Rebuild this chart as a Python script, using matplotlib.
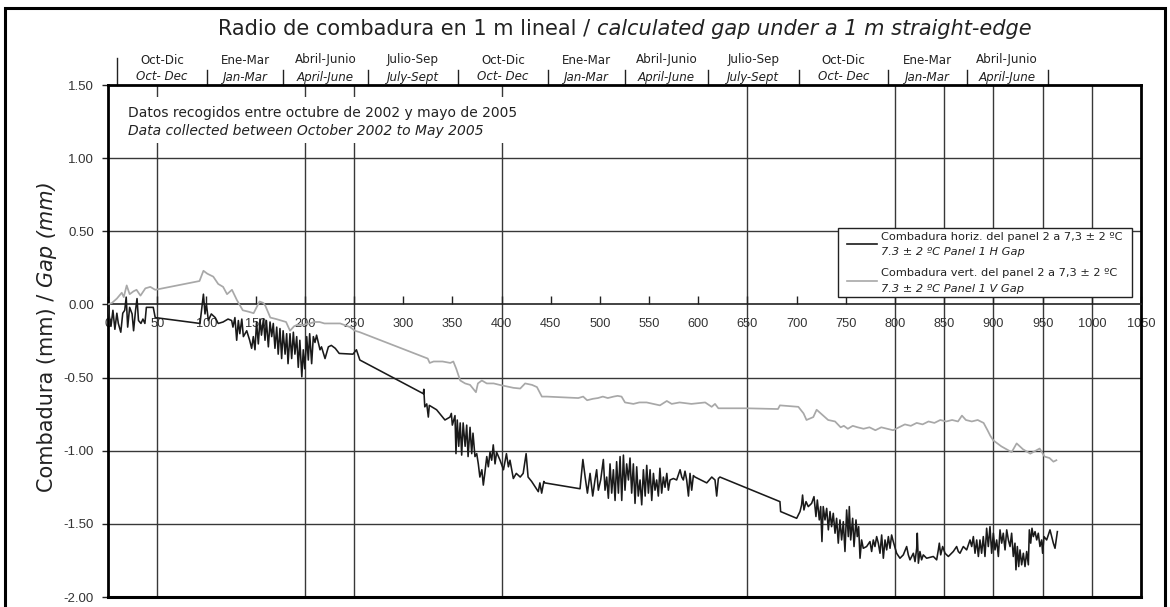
import matplotlib
matplotlib.use("Agg")
import matplotlib.pyplot as plt
from matplotlib.patches import Rectangle
from matplotlib.lines import Line2D
from matplotlib.ticker import FixedLocator, FuncFormatter
import matplotlib.transforms as mtransforms

# ---------------- data ----------------
# Horizontal gap (black)
h_x = [0, 1.5, 3, 5, 7, 9, 10.5, 13, 15, 17, 18.5, 20, 22, 24.5, 26, 28, 29.5, 31, 33.5, 35.5, 37.5, 39, 46, 48,
       93.5, 97, 98.6, 100, 102, 105, 109, 112, 117, 122, 125.7, 127, 129, 130.8, 132.5, 134, 136, 137.6, 141, 144,
       146, 147.7, 149.4, 151, 152.8, 154.5, 156, 158, 159.6, 161, 163, 164.7, 166.4, 168, 169.7, 171.5, 173, 174.8, 176.5, 178,
       180, 181.6, 183, 185, 186.7, 188.4, 190, 191.8, 193.4, 195, 197, 198.5, 200, 202, 203.6, 205, 207, 208.7, 210.4, 212,
       215.5, 217, 220.6, 224, 227, 231, 235, 249, 252.5, 256,
       320.5, 321, 322, 324, 325.6, 326.6, 329, 334, 342.5, 347.6, 349, 350, 352.7, 353.7, 355, 356.5, 358, 359.5, 361, 363,
       364.6, 366, 368, 369.7, 371, 373, 374.8, 376.4, 378, 380, 381.5, 383, 385, 386.6, 388.3, 390, 391.6, 393.4, 395, 398.5,
       402, 405, 407, 408.6, 412, 415, 419, 422, 425, 427, 430.6, 434, 437.4, 439, 440.8, 443, 444,
       479.8, 482.7, 485, 487.3, 490, 492.7, 495, 496.7, 498.4, 500.8, 503.5, 505.2, 506.9, 508.6, 510.3, 512, 513.7, 515.4, 517, 518.8,
       520.5, 522.2, 523.9, 525.5, 527.2, 529, 530.6, 532.3, 534, 535.7, 537.4, 539, 540.8, 542.5, 544.2, 546, 547.6, 549.3, 551, 552.7,
       554.4, 556, 557.7, 559.4, 561, 562.8, 564.5, 566.2, 568, 569.6, 571.3, 574.7, 578, 581.5, 583.2, 584.8, 586.5, 588.2, 590, 591.6,
       593.3, 595, 596.7, 608.6, 613.7, 617, 618.7, 620.4, 622,
       683, 683.7, 700, 703.4, 705, 706, 707.4, 709.5, 711.8, 715.2, 717.6, 719.6, 721, 723, 724.4, 725.7, 727, 728.8, 730.5, 732.2,
       733.9, 735.5, 737.2, 739, 740.6, 742.3, 744, 745.7, 747.4, 749.1, 750.8, 752.5, 753.5, 754.9, 756.9, 758.3, 760.3, 761.6, 763, 764.4,
       766, 767.7, 771.1, 774.5, 776.2, 777.9, 779.6, 781.3, 783, 784.7, 786.4, 788.1, 789.8, 791.5, 793.2, 794.9, 796.5, 798.2, 801.6, 805,
       808.4, 811.8, 813.5, 815.2, 818.6, 820.3, 822, 822.6, 823.7, 825.3, 827, 828.7, 832.1, 838.9, 842.3, 844, 845, 846.4, 848.4, 850.8,
       854.2, 859.2, 862.6, 864.3, 866, 869.4, 872.8, 876.2, 877.9, 879.6, 881.3, 883, 884.7, 886.3, 888, 889.7, 891.4, 893.1, 894.8, 896.5,
       898.2, 899.9, 901.6, 903.3, 905, 906.7, 908.4, 910, 911.8, 913.5, 915.2, 916.9, 918.5, 920.2, 921.9, 922.9, 924.3, 925.7, 927, 928.7,
       930.4, 932.1, 933.8, 935.5, 936.5, 937.9, 939.2, 940.6, 942.3, 944, 945.6, 947.3, 949, 950, 951.4, 954.1, 957.5, 960.9, 962.6, 965]
h_y = [-0.01, -0.09, -0.15, -0.04, -0.17, -0.06, -0.13, -0.19, -0.06, -0.04, 0.05, -0.155, -0.02, -0.065, -0.18, -0.04, 0.04, -0.11, -0.13, -0.10, -0.13, -0.02, -0.02, -0.09,
       -0.13, 0.07, -0.065, 0.005, -0.11, -0.065, -0.09, -0.13, -0.12, -0.10, -0.11, -0.155, -0.09, -0.245, -0.11, -0.20, -0.10, -0.22, -0.18, -0.245,
       -0.30, -0.22, -0.31, -0.12, -0.27, -0.10, -0.21, -0.10, -0.245, -0.11, -0.29, -0.12, -0.22, -0.13, -0.30, -0.155, -0.34, -0.165, -0.37, -0.18,
       -0.34, -0.20, -0.405, -0.20, -0.37, -0.19, -0.34, -0.22, -0.43, -0.245, -0.495, -0.31, -0.44, -0.22, -0.38, -0.20, -0.405, -0.22, -0.26, -0.21,
       -0.31, -0.29, -0.37, -0.29, -0.28, -0.30, -0.335, -0.34, -0.31, -0.38,
       -0.61, -0.58, -0.70, -0.68, -0.77, -0.69, -0.70, -0.72, -0.79, -0.77, -0.745, -0.825, -0.76, -1.02, -0.79, -0.97, -0.81, -1.03, -0.81, -0.97,
       -0.825, -1.04, -0.84, -1.02, -0.88, -1.04, -1.02, -1.09, -1.18, -1.13, -1.235, -1.155, -1.04, -1.11, -1.01, -1.065, -0.96, -1.09, -1.01, -1.065,
       -1.13, -1.02, -1.11, -1.065, -1.19, -1.155, -1.18, -1.155, -1.02, -1.18, -1.21, -1.245, -1.28, -1.22, -1.29, -1.21, -1.22,
       -1.26, -1.06, -1.18, -1.29, -1.155, -1.31, -1.20, -1.13, -1.27, -1.20, -1.06, -1.27, -1.18, -1.325, -1.09, -1.29, -1.13, -1.34, -1.075, -1.29,
       -1.04, -1.34, -1.03, -1.27, -1.09, -1.20, -1.05, -1.29, -1.09, -1.36, -1.11, -1.31, -1.20, -1.37, -1.13, -1.31, -1.10, -1.29, -1.13, -1.34,
       -1.155, -1.27, -1.20, -1.31, -1.12, -1.29, -1.18, -1.25, -1.155, -1.27, -1.20, -1.19, -1.20, -1.13, -1.18, -1.20, -1.14, -1.20, -1.31, -1.155,
       -1.27, -1.17, -1.18, -1.22, -1.18, -1.20, -1.31, -1.19, -1.18,
       -1.348, -1.416, -1.462, -1.416, -1.371, -1.303, -1.405, -1.348, -1.382, -1.36, -1.314, -1.45, -1.337, -1.473, -1.382, -1.621, -1.382, -1.473, -1.394, -1.541,
       -1.416, -1.519, -1.428, -1.564, -1.462, -1.632, -1.473, -1.61, -1.485, -1.689, -1.405, -1.587, -1.382, -1.61, -1.462, -1.655, -1.473, -1.587, -1.519, -1.735,
       -1.61, -1.667, -1.655, -1.621, -1.689, -1.61, -1.655, -1.587, -1.632, -1.701, -1.576, -1.735, -1.61, -1.678, -1.587, -1.667, -1.576, -1.621, -1.701, -1.735,
       -1.712, -1.655, -1.712, -1.746, -1.701, -1.758, -1.667, -1.564, -1.769, -1.689, -1.746, -1.712, -1.735, -1.723, -1.746, -1.678, -1.632, -1.712, -1.655, -1.701,
       -1.723, -1.689, -1.655, -1.689, -1.701, -1.655, -1.678, -1.61, -1.655, -1.587, -1.701, -1.61, -1.723, -1.61, -1.701, -1.587, -1.723, -1.53, -1.655, -1.519,
       -1.701, -1.564, -1.678, -1.61, -1.723, -1.541, -1.632, -1.564, -1.678, -1.541, -1.61, -1.655, -1.564, -1.723, -1.632, -1.814, -1.655, -1.792, -1.678, -1.78,
       -1.701, -1.792, -1.689, -1.78, -1.541, -1.632, -1.53, -1.587, -1.553, -1.61, -1.564, -1.655, -1.61, -1.701, -1.587, -1.61, -1.541, -1.632, -1.667, -1.553]

# Vertical gap (grey)
v_x = [0, 4, 9, 14, 16, 19, 22, 26, 29, 33, 38, 43, 48, 93, 97, 101, 107, 112, 117, 121,
       126, 131, 137, 143, 148, 154, 158, 160, 165, 171, 176, 181, 185, 189, 192, 198, 205, 210, 215, 220,
       226, 236, 246, 251, 256, 325, 327, 331, 340, 348, 351, 354, 358, 363, 368, 371, 374, 376, 380, 385,
       392, 398, 405, 412, 419, 424, 431, 436, 441, 446, 478, 483, 487, 493, 498, 503, 508, 514, 518, 522,
       525.5, 530, 534, 540, 547.5, 554, 561, 568, 573, 581, 587, 593, 600, 607, 613.6, 617, 620.4, 649, 681, 683,
       701.7, 707, 710, 716.9, 720.3, 727, 732, 739, 744.7, 748, 752, 757, 762, 768, 774, 780, 786, 792, 798, 804,
       810, 816, 822, 828, 834, 840, 846, 852, 858, 864, 868, 872, 878, 884, 890, 894, 897, 900, 908, 918.5,
       923.6, 930, 937.5, 947, 952, 957, 961, 964]
v_y = [0.00, 0.01, 0.04, 0.08, 0.05, 0.13, 0.07, 0.09, 0.10, 0.06, 0.11, 0.12, 0.10, 0.16, 0.23, 0.21, 0.19, 0.14, 0.12, 0.07,
       0.10, 0.03, -0.04, -0.05, -0.06, 0.02, 0.01, -0.01, -0.09, -0.10, -0.11, -0.12, -0.18, -0.15, -0.14, -0.14, -0.13, -0.12, -0.12, -0.13,
       -0.13, -0.13, -0.155, -0.18, -0.19, -0.37, -0.40, -0.39, -0.39, -0.40, -0.39, -0.44, -0.52, -0.54, -0.55, -0.575, -0.60, -0.54, -0.52, -0.54,
       -0.54, -0.55, -0.56, -0.57, -0.575, -0.54, -0.55, -0.565, -0.63, -0.63, -0.64, -0.63, -0.655, -0.645, -0.64, -0.63, -0.64, -0.63, -0.625, -0.63,
       -0.67, -0.675, -0.68, -0.67, -0.67, -0.68, -0.69, -0.66, -0.68, -0.67, -0.675, -0.68, -0.675, -0.67, -0.70, -0.68, -0.71, -0.71, -0.715, -0.69,
       -0.70, -0.745, -0.79, -0.77, -0.72, -0.76, -0.79, -0.80, -0.84, -0.83, -0.85, -0.83, -0.84, -0.85, -0.84, -0.86, -0.84, -0.85, -0.86, -0.84,
       -0.82, -0.83, -0.81, -0.82, -0.80, -0.81, -0.79, -0.80, -0.79, -0.80, -0.76, -0.79, -0.80, -0.79, -0.81, -0.86, -0.90, -0.93, -0.97, -1.01,
       -0.95, -0.99, -1.02, -0.985, -1.04, -1.05, -1.075, -1.065]

quarter_edges = [9, 101, 178, 264, 356, 447, 525, 610, 702, 793, 873, 955]
quarters_es = ["Oct-Dic", "Ene-Mar", "Abril-Junio", "Julio-Sep", "Oct-Dic", "Ene-Mar",
               "Abril-Junio", "Julio-Sep", "Oct-Dic", "Ene-Mar", "Abril-Junio"]
quarters_en = ["Oct- Dec", "Jan-Mar", "April-June", "July-Sept", "Oct- Dec", "Jan-Mar",
               "April-June", "July-Sept", "Oct- Dec", "Jan-Mar", "April-June"]

x_ticks = list(range(0, 1051, 50))
y_ticks = [-2.0, -1.5, -1.0, -0.5, 0.0, 0.5, 1.0, 1.5]
x_grid = [50, 200, 250, 400, 650, 800, 850, 900, 950, 1000]
y_grid = [-1.5, -1.0, -0.5, 0.5, 1.0]

legend_h = ("Combadura horiz. del panel 2 a 7,3 ± 2 ºC", "7.3 ± 2 ºC Panel 1 H Gap")
legend_v = ("Combadura vert. del panel 2 a 7,3 ± 2 ºC", "7.3 ± 2 ºC Panel 1 V Gap")

# ---------------- figure ----------------
W, H, DPI = 1170, 607, 100
fig = plt.figure(figsize=(W / DPI, H / DPI), dpi=DPI)
fig.patch.set_facecolor("white")
FONT = "DejaVu Sans"
TICKFONT = "Liberation Sans"


def fx(px):
    return px / W


def fy(py):
    return 1 - py / H


ax = fig.add_axes([fx(108), fy(597), fx(1141) - fx(108), fy(85) - fy(597)])
ax.set_xlim(0, 1050)
ax.set_ylim(-2.0, 1.5)

BLACK = "#1a1a1a"
GREY = "#a8a8a8"
GRIDC = "#383838"

for xv in x_grid:
    ax.axvline(xv, color=GRIDC, lw=1.0, zorder=1)
for yv in y_grid:
    ax.axhline(yv, color=GRIDC, lw=1.0, zorder=1)

ax.plot(v_x, v_y, color=GREY, lw=1.25, zorder=3)
ax.plot(h_x, h_y, color=BLACK, lw=1.15, zorder=4)

# spines
for s in ("left", "right", "top"):
    ax.spines[s].set_linewidth(2.0)
    ax.spines[s].set_color("black")
ax.spines["bottom"].set_position(("data", 0))
ax.spines["bottom"].set_linewidth(1.2)
ax.spines["bottom"].set_color("#222222")
ax.axhline(-2.0, color="black", lw=2.2, clip_on=False, zorder=5)

ax.xaxis.set_major_locator(FixedLocator(x_ticks))
ax.yaxis.set_major_locator(FixedLocator(y_ticks))
ax.xaxis.set_major_formatter(FuncFormatter(lambda v, p: f"{int(v)}"))
ax.yaxis.set_major_formatter(FuncFormatter(lambda v, p: f"{v:.2f}".replace("\u2212", "-")))
ax.tick_params(axis="x", direction="in", length=6, width=1.0, pad=10, labelsize=9.2,
               labelcolor="#333333", color="#222222")
ax.tick_params(axis="y", direction="out", length=4, width=1.0, pad=6, labelsize=9.5,
               labelcolor="#333333", color="#222222")
for lab in ax.get_xticklabels() + ax.get_yticklabels():
    lab.set_fontfamily(TICKFONT)

# white box behind the note
ax.add_patch(Rectangle((fx(118), fy(143)), fx(535) - fx(118), fy(97) - fy(143),
                       transform=fig.transFigure, facecolor="white", edgecolor="none", zorder=2))
ax.text(fx(128), fy(113), "Datos recogidos entre octubre de 2002 y mayo de 2005",
        transform=fig.transFigure, fontsize=10.0, family=FONT, va="center", ha="left", color="#222222", zorder=6)
ax.text(fx(128), fy(131.5), "Data collected between October 2002 to May 2005",
        transform=fig.transFigure, fontsize=10.0, family=FONT, style="italic", va="center", ha="left",
        color="#222222", zorder=6)

# legend (manual)
ax.add_patch(Rectangle((fx(838), fy(297)), fx(1132) - fx(838), fy(228) - fy(297),
                       transform=fig.transFigure, facecolor="white", edgecolor="#222222", lw=1.0, zorder=6))
ax.add_line(Line2D([fx(847), fx(877)], [fy(243.5), fy(243.5)], transform=fig.transFigure,
                   color=BLACK, lw=1.2, zorder=7))
ax.add_line(Line2D([fx(847), fx(877)], [fy(281), fy(281)], transform=fig.transFigure,
                   color=GREY, lw=1.2, zorder=7))
for txt, py, st in [(legend_h[0], 236.5, "normal"), (legend_h[1], 252, "italic"),
                    (legend_v[0], 273, "normal"), (legend_v[1], 288.5, "italic")]:
    ax.text(fx(881), fy(py), txt, transform=fig.transFigure, fontsize=8.2, family=FONT,
            style=st, va="center", ha="left", color="#222222", zorder=8)

# quarter header
btrans = mtransforms.blended_transform_factory(ax.transData, fig.transFigure)
for i, e in enumerate(quarter_edges):
    top = 58 if i == 0 else 70
    ax.add_line(Line2D([e, e], [fy(top), fy(85)], transform=btrans, color="#222222", lw=1.0, clip_on=False))
for i in range(len(quarters_es)):
    cx = 0.5 * (quarter_edges[i] + quarter_edges[i + 1])
    ax.text(cx, fy(60), quarters_es[i], transform=btrans, fontsize=8.6, family=FONT,
            ha="center", va="center", color="#222222", clip_on=False)
    ax.text(cx, fy(77), quarters_en[i], transform=btrans, fontsize=8.6, family=FONT, style="italic",
            ha="center", va="center", color="#222222", clip_on=False)

# title (mixed normal/italic) and y label
renderer = fig.canvas.get_renderer()
TS = 15
t1 = fig.text(0, fy(29), "Radio de combadura en 1 m lineal /", fontsize=TS, family=FONT,
              va="center", ha="left", color="#222222")
t2 = fig.text(0, fy(29), "calculated gap under a 1 m straight-edge", fontsize=TS, family=FONT,
              style="italic", va="center", ha="left", color="#222222")
w1 = t1.get_window_extent(renderer).width
w2 = t2.get_window_extent(renderer).width
gap = TS * DPI / 72 * 0.32
start = 624.5 - (w1 + gap + w2) / 2
t1.set_x(fx(start))
t2.set_x(fx(start + w1 + gap))

y1 = fig.text(fx(47), 0, "Combadura (mm) /", fontsize=15, family=FONT, rotation=90,
              va="bottom", ha="center", color="#222222")
y2 = fig.text(fx(47), 0, "Gap (mm)", fontsize=15, family=FONT, style="italic", rotation=90,
              va="bottom", ha="center", color="#222222")
h1 = y1.get_window_extent(renderer).height
h2 = y2.get_window_extent(renderer).height
gapy = 15 * DPI / 72 * 0.32
ystart = (H - 337) - (h1 + gapy + h2) / 2
y1.set_y(ystart / H)
y2.set_y((ystart + h1 + gapy) / H)

# outer border
fig.add_artist(Rectangle((fx(5), fy(650)), fx(1165) - fx(5), fy(8) - fy(650), transform=fig.transFigure,
                         fill=False, edgecolor="black", lw=2.2, clip_on=False))

fig.savefig("out.png", dpi=DPI)
